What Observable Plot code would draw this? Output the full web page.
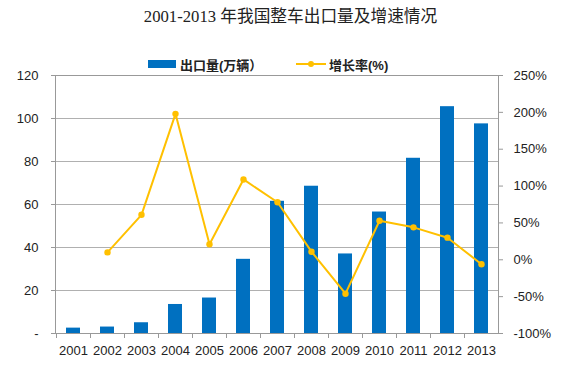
<!DOCTYPE html>
<html><head><meta charset="utf-8">
<script src="https://cdn.jsdelivr.net/npm/d3@7"></script>
<script src="https://cdn.jsdelivr.net/npm/@observablehq/plot@0.6"></script>
<style>
body{margin:0;background:#fff;}
#wrap{position:relative;width:561px;height:366px;overflow:hidden;}
#title{position:absolute;left:0;top:3px;width:581px;text-align:center;font:16.7px "Liberation Serif","Noto Sans CJK SC",serif;color:#222;}
#legend{position:absolute;top:55px;left:0;width:561px;font:bold 13px "Liberation Sans","Noto Sans CJK SC",sans-serif;color:#222;}
.li{position:absolute;top:0;display:flex;align-items:center;height:18px;}
</style></head>
<body><div id="wrap">
<div id="title">2001-2013 年我国整车出口量及增速情况</div>
<div id="legend">
 <div class="li" style="left:148px"><span style="display:inline-block;width:28px;height:8px;background:#0070C0;margin-right:4px"></span>出口量(万辆）</div>
 <div class="li" style="left:296px"><svg width="30" height="10" style="margin-right:3px"><line x1="0" x2="30" y1="5" y2="5" stroke="#FFC000" stroke-width="2"/><circle cx="15" cy="5" r="3" fill="#FFC000"/></svg>增长率(%)</div>
</div>
<div id="chart"></div>
</div>
<script>
const years = ["2001","2002","2003","2004","2005","2006","2007","2008","2009","2010","2011","2012","2013"];
const exports = [2.5, 3, 5, 13.5, 16.5, 34.5, 61.5, 68.5, 37, 56.5, 81.5, 105.5, 97.5];
const growth = [null, 10, 61, 198, 21, 109, 78, 11, -46, 53, 44, 30, -6];
const leftTicks = [0, 20, 40, 60, 80, 100, 120];
const rightTicks = [-100, -50, 0, 50, 100, 150, 200, 250];

const conv = p => (p + 100) * 120 / 350;
const bars = years.map((y, i) => ({year: y, value: exports[i]}));
const line = years.map((y, i) => ({year: y, g: growth[i]})).filter(d => d.g != null);

const chart = Plot.plot({
  width: 561, height: 366,
  marginLeft: 55, marginRight: 63, marginTop: 75, marginBottom: 33,
  style: {fontFamily: "'Liberation Sans', sans-serif", fontSize: "13px", color: "#222", background: "transparent"},
  x: {type: "band", domain: years, padding: 0, axis: null, label: null},
  y: {domain: [0, 120], axis: null, label: null},
  marks: [
    Plot.gridY(leftTicks, {stroke: "#b0b0b0", strokeOpacity: 1}),
    Plot.barY(bars, {x: "year", y: "value", fill: "#0070C0", insetLeft: 10, insetRight: 10}),
    Plot.line(line, {x: "year", y: d => conv(d.g), stroke: "#FFC000", strokeWidth: 2}),
    Plot.dot(line, {x: "year", y: d => conv(d.g), fill: "#FFC000", r: 3.2}),
    Plot.frame({stroke: "#999"}),
    Plot.axisY(leftTicks, {anchor: "left", label: null, tickSize: 4, tickPadding: 13, stroke: "#999", tickFormat: v => v === 0 ? "-" : v}),
    Plot.axisY(rightTicks.map(conv), {anchor: "right", label: null, tickSize: 4, tickPadding: 11, stroke: "#999", tickFormat: v => Math.round(v * 350 / 120 - 100) + "%"}),
    Plot.axisX({anchor: "bottom", label: null, tickSize: 5, dx: -17, stroke: "#999", tickFormat: () => ""}),
    Plot.axisX({anchor: "bottom", label: null, tickSize: 0, tickPadding: 12, fill: "#222"})
  ]
});
chart.style.position = "absolute";
chart.style.left = "0"; chart.style.top = "0";
document.getElementById("chart").appendChild(chart);
</script>
</body></html>
